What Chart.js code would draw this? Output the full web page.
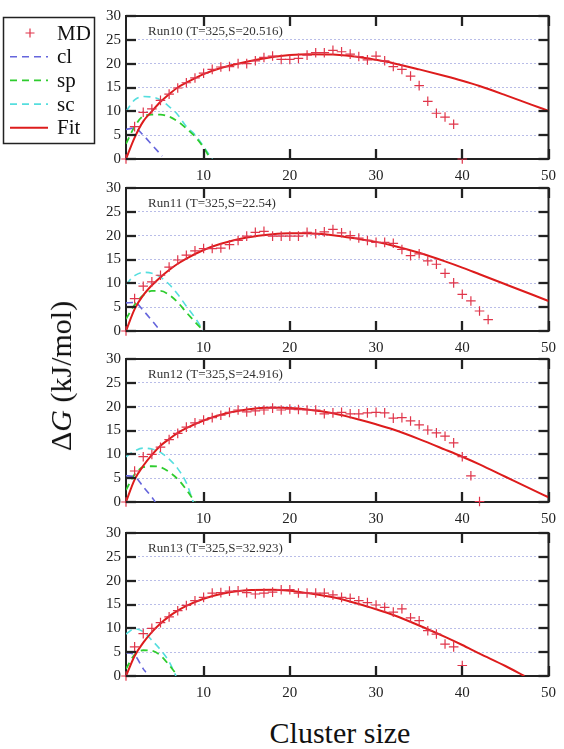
<!DOCTYPE html>
<html>
<head>
<meta charset="utf-8">
<script src="https://cdn.jsdelivr.net/npm/chart.js@4.4.0/dist/chart.umd.min.js"></script>
<style>
  body { margin: 0; background: #fff; }
  #wrap { position: relative; width: 564px; height: 749px; overflow: hidden; }
  #wrap canvas { position: absolute; left: 0; }
  .ytitle {
    position: absolute; left: 61px; top: 376px;
    transform: translate(-50%, -50%) rotate(-90deg);
    font: 30px 'Liberation Serif', serif; color: #111; white-space: nowrap;
  }
  .xtitle {
    position: absolute; left: 340px; top: 733px;
    transform: translate(-50%, -50%);
    font: 30px 'Liberation Serif', serif; color: #111; white-space: nowrap;
  }
</style>
</head>
<body>
<div id="wrap">
  <canvas id="c0" width="564" height="190"></canvas>
  <canvas id="c1" width="564" height="190"></canvas>
  <canvas id="c2" width="564" height="190"></canvas>
  <canvas id="c3" width="564" height="190"></canvas>
  <div class="ytitle">&Delta;<i>G</i> (kJ/mol)</div>
  <div class="xtitle">Cluster size</div>
</div>
<script>
// Data
var runLabels = ['Run10 (T=325,S=20.516)', 'Run11 (T=325,S=22.54)', 'Run12 (T=325,S=24.916)', 'Run13 (T=325,S=32.923)'];
var legendLabels = ['MD', 'cl', 'sp', 'sc', 'Fit'];
var xTicks = [10, 20, 30, 40, 50];
var yTicks = [0, 5, 10, 15, 20, 25, 30];

// MD points, cluster size 1..n
var md10 = [0, 6.8, 9.8, 10.5, 12.3, 13.6, 14.9, 16.0, 17.0, 18.0, 18.8, 19.3, 19.4, 20.0, 20.0, 20.6, 21.3, 21.6, 20.9, 20.9,
            21.1, 21.8, 22.3, 22.3, 22.8, 22.5, 22.0, 21.5, 20.8, 21.6, 20.6, 19.4, 18.8, 17.4, 15.4, 12.1, 9.6, 8.8, 7.3, 0];
var md11 = [0, 6.8, 9.4, 10.3, 11.7, 13.4, 14.9, 15.9, 16.8, 17.3, 17.3, 17.4, 18.1, 19.0, 19.9, 20.7, 20.9, 19.9, 19.9, 19.9,
            19.9, 20.7, 20.4, 20.8, 21.3, 20.6, 20.0, 19.5, 19.0, 18.6, 18.6, 18.4, 17.1, 15.8, 16.2, 14.7, 14.0, 12.1, 10.1, 7.7,
            6.3, 4.2, 2.4];
var md12 = [0, 6.5, 9.5, 10.0, 11.5, 13.1, 14.4, 15.7, 16.6, 17.2, 17.7, 18.2, 18.8, 19.3, 18.9, 19.1, 19.3, 19.7, 19.3, 19.5,
            19.4, 19.3, 19.3, 18.5, 18.7, 18.8, 18.5, 18.5, 18.7, 18.8, 18.7, 17.6, 17.7, 17.0, 16.2, 15.1, 14.5, 13.8, 12.4, 9.5,
            5.5, 0.1];
var md13 = [0, 6.1, 8.9, 10.0, 11.2, 12.4, 13.7, 14.8, 15.8, 16.5, 17.4, 17.5, 17.8, 17.9, 17.5, 17.2, 17.4, 17.6, 18.1, 18.1,
            17.4, 17.4, 17.4, 17.4, 17.0, 16.5, 16.3, 15.8, 15.4, 14.9, 14.4, 13.4, 14.1, 12.2, 11.6, 9.5, 8.8, 6.7, 6.1, 2.2];

// Fit curves
var fitX = [1, 2, 3, 4, 5, 6, 7, 8, 10, 12, 15, 18, 20, 22, 25, 28, 30, 32, 35, 38, 40, 42, 45, 48, 50];
var fit10 = [0, 4.5, 7.9, 10.0, 12.0, 13.6, 15.0, 16.0, 17.8, 19.1, 20.4, 21.4, 21.8, 22.0, 21.9, 21.4, 20.8, 20.1, 18.8, 17.4, 16.4, 15.3, 13.4, 11.4, 10.1];
var fit11 = [0, 4.6, 7.5, 9.6, 11.3, 12.8, 14.1, 15.2, 17.0, 18.3, 19.6, 20.3, 20.5, 20.5, 20.1, 19.3, 18.7, 17.9, 16.4, 14.6, 13.3, 11.9, 9.8, 7.7, 6.3];
var fit12 = [0, 4.7, 7.6, 9.9, 11.8, 13.2, 14.5, 15.5, 17.1, 18.3, 19.4, 19.8, 19.7, 19.4, 18.6, 17.3, 16.3, 15.2, 13.2, 11.0, 9.5, 7.9, 5.3, 2.7, 1.0];
var fitX13 = [1, 2, 3, 4, 5, 6, 7, 8, 10, 12, 15, 18, 20, 22, 25, 28, 30, 32, 35, 38, 40, 42, 45, 47.2];
var fit13 = [0, 4.2, 7.0, 9.2, 11.0, 12.5, 13.7, 14.7, 16.2, 17.2, 18.0, 18.1, 17.9, 17.4, 16.5, 15.1, 14.0, 12.8, 10.6, 8.2, 6.5, 4.7, 2.1, 0];

// cl / sp / sc contributions
var clX10 = [1, 2, 3, 4, 5.2], cl10 = [6.2, 6.5, 5.0, 3.0, 0.6];
var spX10 = [1, 2, 3, 4, 5, 6, 7, 8, 9, 10, 10.8], sp10 = [3.2, 6.8, 9.0, 9.3, 9.3, 8.9, 7.9, 6.4, 4.7, 2.4, 0];
var scX10 = [1, 2, 3, 4, 5, 6, 7, 8, 9, 10, 11], sc10 = [10.0, 12.4, 13.1, 13.0, 12.4, 11.0, 9.3, 6.8, 5.1, 2.6, 0];

var clX11 = [1, 2, 3, 4, 5], cl11 = [5.9, 6.0, 4.3, 2.2, 0];
var spX11 = [1, 2, 3, 4, 5, 6, 7, 8, 9, 10], sp11 = [2.5, 5.5, 7.5, 8.4, 8.4, 7.6, 6.0, 3.9, 1.9, 0];
var scX11 = [1, 2, 3, 4, 5, 6, 7, 8, 9, 10], sc11 = [9.8, 11.6, 12.3, 12.1, 11.3, 9.8, 7.7, 5.2, 2.8, 0];

var clX12 = [1, 2, 3, 4, 4.4], cl12 = [5.5, 5.3, 3.2, 1.0, 0];
var spX12 = [1, 2, 3, 4, 5, 6, 7, 8, 9], sp12 = [2.5, 5.8, 7.3, 7.5, 7.3, 6.3, 4.8, 2.6, 0];
var scX12 = [1, 2, 3, 4, 5, 6, 7, 8, 8.8], sc12 = [9.5, 10.7, 11.3, 11.1, 10.4, 9.0, 7.0, 4.0, 0];

var clX13 = [1, 2, 3, 3.3], cl13 = [4.9, 4.4, 1.5, 0.8];
var spX13 = [1, 2, 3, 4, 5, 6, 7], sp13 = [1.5, 4.5, 5.4, 5.3, 4.3, 2.3, 0];
var scX13 = [1, 2, 3, 4, 5, 6, 6.8], sc13 = [8.8, 9.9, 9.3, 7.5, 5.5, 3.0, 0];

var panelTops = [16, 188, 359, 533];

function pts(xs, ys) {
    return ys.map(function (y, i) { return { x: xs[i], y: y }; });
}
function mdPts(ys) {
    return ys.map(function (y, i) { return { x: i + 1, y: y }; });
}

var runs = [
    { md: md10, fitX: fitX, fit: fit10, cl: pts(clX10, cl10), sp: pts(spX10, sp10), sc: pts(scX10, sc10) },
    { md: md11, fitX: fitX, fit: fit11, cl: pts(clX11, cl11), sp: pts(spX11, sp11), sc: pts(scX11, sc11) },
    { md: md12, fitX: fitX, fit: fit12, cl: pts(clX12, cl12), sp: pts(spX12, sp12), sc: pts(scX12, sc12) },
    { md: md13, fitX: fitX13, fit: fit13, cl: pts(clX13, cl13), sp: pts(spX13, sp13), sc: pts(scX13, sc13) }
];

var SERIF = "'Liberation Serif', 'Times New Roman', serif";
var dash = [7, 5];

// frame with inward ticks, gnuplot style
var framePlugin = {
    id: 'frame',
    beforeDatasetsDraw: function (chart) {
        var ctx = chart.ctx, a = chart.chartArea;
        ctx.save();
        ctx.setLineDash([]);
        ctx.strokeStyle = '#222';
        ctx.lineWidth = 2;
        ctx.strokeRect(a.left, a.top, a.right - a.left, a.bottom - a.top);
        ctx.fillStyle = '#333';
        ctx.font = '13px ' + SERIF;
        ctx.textBaseline = 'middle';
        ctx.textAlign = 'left';
        ctx.fillText(chart.options.plugins.frame.label, a.left + 22, a.top + 16);
        ctx.restore();
    },
    afterDraw: function (chart) {
        var ctx = chart.ctx, a = chart.chartArea;
        var xs = chart.scales.x, ys = chart.scales.y;
        ctx.save();
        ctx.setLineDash([]);
        ctx.strokeStyle = '#222';
        ctx.lineWidth = 2.3;
        yTicks.forEach(function (v) {
            var p = Math.round(ys.getPixelForValue(v));
            ctx.beginPath();
            ctx.moveTo(a.left, p); ctx.lineTo(a.left + 10, p);
            ctx.stroke();
            ctx.beginPath();
            ctx.moveTo(a.right, p); ctx.lineTo(a.right - 10, p);
            ctx.stroke();
        });
        xTicks.forEach(function (v) {
            var p = Math.round(xs.getPixelForValue(v));
            ctx.beginPath();
            ctx.moveTo(p, a.bottom); ctx.lineTo(p, a.bottom - 10);
            ctx.stroke();
            ctx.beginPath();
            ctx.moveTo(p, a.top); ctx.lineTo(p, a.top + 10);
            ctx.stroke();
        });
        ctx.restore();
    }
};

// legend box left of the first panel
var legendBoxPlugin = {
    id: 'legendBox',
    afterDraw: function (chart) {
        if (!chart.options.plugins.legendBox.show) return;
        var ctx = chart.ctx;
        var ds = chart.data.datasets;
        ctx.save();
        ctx.strokeStyle = '#222';
        ctx.lineWidth = 1.5;
        ctx.strokeRect(3.5, 17.5, 91, 126);
        ctx.font = '21px ' + SERIF;
        ctx.fillStyle = '#111';
        ctx.textBaseline = 'middle';
        ds.forEach(function (d, i) {
            var y = 33 + i * 23.7;
            ctx.strokeStyle = d.borderColor;
            if (d.showLine === false) {
                ctx.lineWidth = 1.2;
                ctx.beginPath();
                ctx.moveTo(25.5, y); ctx.lineTo(34.5, y);
                ctx.moveTo(30, y - 4.5); ctx.lineTo(30, y + 4.5);
                ctx.stroke();
            } else {
                ctx.lineWidth = d.borderWidth;
                ctx.setLineDash(d.borderDash || []);
                ctx.beginPath();
                ctx.moveTo(10, y); ctx.lineTo(48, y);
                ctx.stroke();
                ctx.setLineDash([]);
            }
            ctx.fillText(legendLabels[i], 57, y + 1);
        });
        ctx.restore();
    }
};

function makeChart(idx) {
    var r = runs[idx];
    var canvas = document.getElementById('c' + idx);
    canvas.style.top = (panelTops[idx] - 16) + 'px';
    return new Chart(canvas, {
        type: 'line',
        data: {
            datasets: [
                { label: 'MD', data: mdPts(r.md), showLine: false, pointStyle: 'cross', pointRadius: 4.8,
                  pointBorderWidth: 1.2, borderColor: '#e0354a', backgroundColor: '#e0354a', clip: false, order: 0 },
                { label: 'cl', data: r.cl, borderColor: '#6565dc', borderWidth: 1.6, borderDash: dash, pointRadius: 0,
                  cubicInterpolationMode: 'monotone', order: 3 },
                { label: 'sp', data: r.sp, borderColor: '#2ecc2e', borderWidth: 1.8, borderDash: dash, pointRadius: 0,
                  cubicInterpolationMode: 'monotone', order: 3 },
                { label: 'sc', data: r.sc, borderColor: '#55dede', borderWidth: 1.6, borderDash: dash, pointRadius: 0,
                  cubicInterpolationMode: 'monotone', order: 3 },
                { label: 'Fit', data: pts(r.fitX, r.fit), borderColor: '#dd1c1c', borderWidth: 2, pointRadius: 0,
                  cubicInterpolationMode: 'monotone', order: 1 }
            ]
        },
        options: {
            responsive: false,
            animation: false,
            events: [],
            layout: { padding: { left: 76, right: 11, top: 16, bottom: 5 } },
            plugins: {
                legend: { display: false },
                tooltip: { enabled: false },
                frame: { label: runLabels[idx] },
                legendBox: { show: idx === 0 }
            },
            scales: {
                x: {
                    type: 'linear', min: 1, max: 50,
                    afterBuildTicks: function (s) {
                        s.ticks = xTicks.map(function (v) { return { value: v }; });
                    },
                    afterFit: function (s) { s.height = 26; },
                    grid: { display: false, drawTicks: false },
                    border: { display: false },
                    ticks: { padding: 8, maxRotation: 0, color: '#222', font: { family: SERIF, size: 15 } }
                },
                y: {
                    min: 0, max: 30,
                    afterBuildTicks: function (s) {
                        s.ticks = yTicks.map(function (v) { return { value: v }; });
                    },
                    afterFit: function (s) { s.width = 50; },
                    grid: { color: '#b9bde8', lineWidth: 1, drawTicks: false },
                    border: { display: false, dash: [2, 2] },
                    ticks: { padding: 5, color: '#222', font: { family: SERIF, size: 15 } }
                }
            }
        },
        plugins: [framePlugin, legendBoxPlugin]
    });
}

document.addEventListener('DOMContentLoaded', function () {
    for (var i = 0; i < 4; i++) makeChart(i);
});
</script>
</body>
</html>
